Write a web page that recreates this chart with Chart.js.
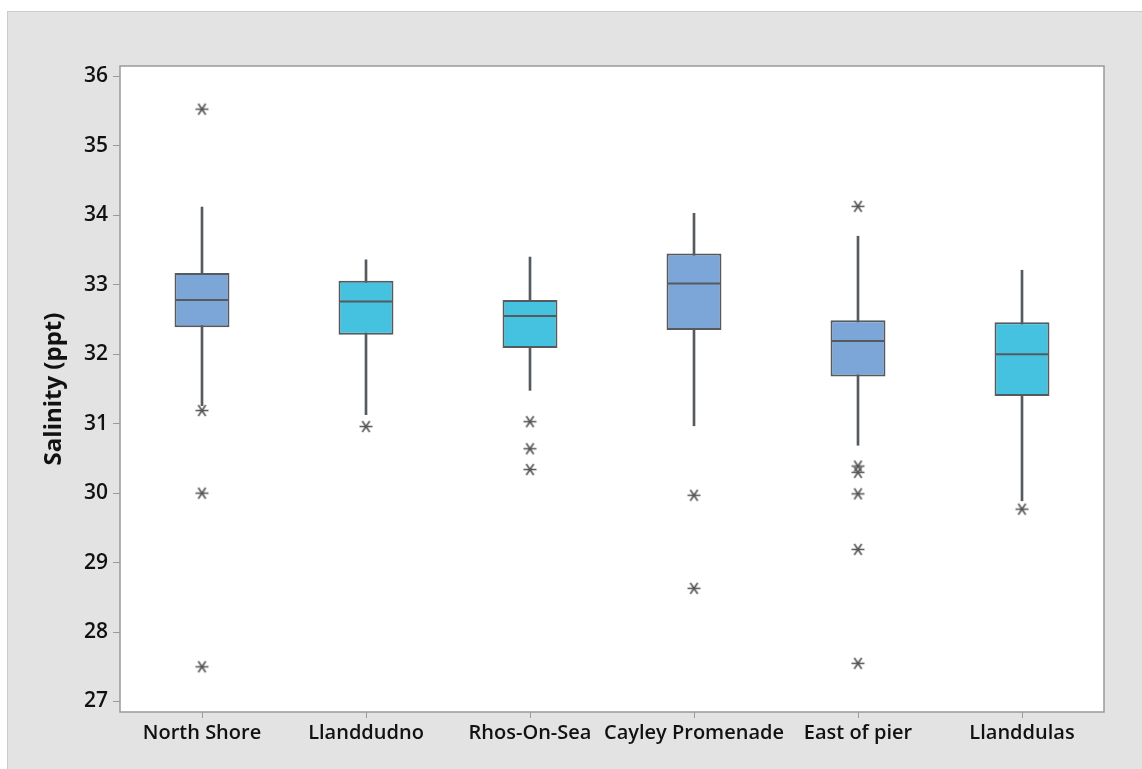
<!DOCTYPE html>
<html>
<head>
<meta charset="utf-8">
<script src="https://cdn.jsdelivr.net/npm/chart.js@4"></script>
<style>
  html, body { margin: 0; padding: 0; background: #fff; }
  #panel { position: absolute; left: 7px; top: 11px; width: 1135px; height: 758px;
           background: #e3e3e3; border-top: 1px solid #cbcbcb; border-left: 1px solid #cbcbcb; box-sizing: border-box; }
  #wrap { position: absolute; left: 0; top: 0; width: 1142px; height: 769px; }
</style>
</head>
<body>
<div id="panel"></div>
<div id="wrap"><canvas id="myChart" width="1142" height="769"></canvas></div>
<script>
// salinity by site
const categories = ['North Shore', 'Llanddudno', 'Rhos-On-Sea', 'Cayley Promenade', 'East of pier', 'Llanddulas']
const q1 = [32.39, 32.28, 32.09, 32.35, 31.68, 31.40]
const median = [32.78, 32.76, 32.55, 33.02, 32.19, 32.00]
const q3 = [33.17, 33.06, 32.78, 33.45, 32.49, 32.46]
const whiskerLow = [31.26, 31.13, 31.48, 30.97, 30.69, 29.89]
const whiskerHigh = [34.12, 33.36, 33.40, 34.03, 33.70, 33.21]
const outliers = [
  [35.53, 31.19, 30.00, 27.50],
  [30.96],
  [31.03, 30.64, 30.34],
  [29.97, 28.63],
  [34.13, 30.39, 30.30, 29.99, 29.19, 27.55],
  [29.77]
]
const yTicks = [27, 28, 29, 30, 31, 32, 33, 34, 35, 36]

const boxColors = ['#7ca6d8', '#45c2df', '#45c2df', '#7ca6d8', '#7ca6d8', '#45c2df']
const lineColor = '#555a5f'
const font = "'Open Sans', 'DejaVu Sans', sans-serif"

// minitab style asterisk
function asterisk() {
  const c = document.createElement('canvas')
  c.width = 15
  c.height = 15
  const g = c.getContext('2d')
  g.strokeStyle = '#555'
  g.lineWidth = 1.6
  g.beginPath()
  g.moveTo(1, 7.5); g.lineTo(14, 7.5)
  g.moveTo(3.8, 2); g.lineTo(11.2, 13)
  g.moveTo(11.2, 2); g.lineTo(3.8, 13)
  g.stroke()
  return c
}

const outlierPoints = []
outliers.forEach((list, i) => {
  list.forEach(v => outlierPoints.push({ x: categories[i], y: v }))
})

const frame = {
  id: 'frame',
  beforeDatasetsDraw(chart) {
    const { ctx, chartArea: a } = chart
    ctx.save()
    ctx.fillStyle = '#fff'
    ctx.fillRect(a.left, a.top, a.right - a.left, a.bottom - a.top)
    ctx.restore()
  },
  afterDatasetsDraw(chart) {
    const { ctx, chartArea: a } = chart
    ctx.save()
    ctx.strokeStyle = '#9a9a9a'
    ctx.lineWidth = 1.5
    ctx.strokeRect(a.left, a.top, a.right - a.left, a.bottom - a.top)
    ctx.restore()
  }
}

new Chart(document.getElementById('myChart').getContext('2d'), {
  type: 'bar',
  data: {
    labels: categories,
    datasets: [
      {
        label: 'box',
        data: categories.map((c, i) => [q1[i], q3[i]]),
        backgroundColor: boxColors,
        borderColor: lineColor,
        borderWidth: 2,
        borderSkipped: false,
        barPercentage: 0.335,
        categoryPercentage: 1,
        grouped: false,
        order: 1
      },
      {
        label: 'whisker',
        data: categories.map((c, i) => [whiskerLow[i], whiskerHigh[i]]),
        backgroundColor: lineColor,
        borderWidth: 0,
        barThickness: 2,
        grouped: false,
        order: 3
      },
      {
        type: 'line',
        label: 'median',
        data: median,
        showLine: false,
        pointStyle: 'line',
        pointRadius: 26.5,
        pointHoverRadius: 26.5,
        pointBorderWidth: 2,
        pointBorderColor: lineColor,
        order: 0
      },
      {
        type: 'line',
        label: 'outliers',
        data: outlierPoints,
        showLine: false,
        pointStyle: asterisk(),
        order: 0
      }
    ]
  },
  options: {
    responsive: false,
    animation: false,
    layout: { padding: { top: 66, right: 38, left: 0, bottom: 0 } },
    plugins: {
      legend: { display: false },
      tooltip: { enabled: false }
    },
    scales: {
      x: {
        offset: true,
        grid: { display: true, drawOnChartArea: false, drawTicks: true, tickLength: 6, tickColor: '#9a9a9a', offset: false },
        border: { display: false },
        ticks: { color: '#111', padding: 3, autoSkip: false, maxRotation: 0, font: { family: font, size: 20, weight: '600' } },
        afterFit(scale) { scale.height = 57 }
      },
      y: {
        min: 26.849,
        max: 36.151,
        afterBuildTicks(scale) { scale.ticks = yTicks.map(v => ({ value: v })) },
        grid: { display: true, drawOnChartArea: false, drawTicks: true, tickLength: 7, tickColor: '#9a9a9a' },
        border: { display: false },
        ticks: { color: '#111', padding: 5, font: { family: font, size: 21, weight: '600' } },
        title: {
          display: true,
          text: 'Salinity (ppt)',
          color: '#111',
          padding: { top: 40, bottom: 0 },
          font: { family: font, size: 24, weight: 'bold' }
        },
        afterFit(scale) { scale.width = 120 }
      }
    }
  },
  plugins: [frame]
})
</script>
</body>
</html>
